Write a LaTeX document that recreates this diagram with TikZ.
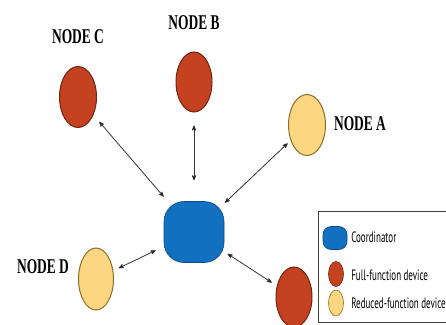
\documentclass[tikz,border=0pt]{standalone}
\usepackage{fontspec}
\usepackage{tikz}
\usetikzlibrary{arrows,shapes.geometric}

\newfontfamily\tagfont[FakeStretch=0.64]{Liberation Serif}
\newfontfamily\keyfont[FakeStretch=0.6]{PT Sans}

\definecolor{ffdfill}{RGB}{196,66,32}
\definecolor{ffdline}{RGB}{112,36,18}
\definecolor{rfdfill}{RGB}{252,214,128}
\definecolor{rfdline}{RGB}{140,110,40}
\definecolor{pancfill}{RGB}{18,112,192}
\definecolor{pancline}{RGB}{12,72,140}

\begin{document}
\begin{tikzpicture}
[x=1pt,y=-1pt,>=stealth',semithick]
\tikzstyle{ffd}=[ellipse,draw=ffdline,fill=ffdfill,line width=1pt,inner sep=0pt,minimum width=37pt,minimum height=61pt]
\tikzstyle{rfd}=[ffd,draw=rfdline,fill=rfdfill]
\tikzstyle{panc}=[rectangle,rounded corners=20pt,draw=pancline,fill=pancfill,line width=0.6pt,inner sep=0pt,minimum width=60pt,minimum height=61pt]
\tikzstyle{tag}=[font=\tagfont\bfseries\fontsize{21}{21}\selectfont,inner sep=0pt]
\tikzstyle{key}=[font=\keyfont\fontsize{15}{15}\selectfont,anchor=west,inner sep=0pt]
\tikzstyle{link}=[<->,draw=black!80,line width=0.8pt]

\clip (0,0) rectangle (446,324);
\useasboundingbox (0,0) rectangle (446,324);

\node[panc] (coord) at (194,232) {};
\node[rfd] (a) at (307,125) {};
\node[ffd,minimum width=36pt,minimum height=60pt] (b) at (194,82) {};
\node[ffd] (c) at (78,97) {};
\node[rfd,minimum width=35pt,minimum height=62pt] (d) at (96,279) {};
\node[ffd,minimum width=36pt,minimum height=60pt] (e) at (294,297) {};

\node[tag] (ta) at (360,124) {NODE A};
\node[tag] (tb) at (194,23) {NODE B};
\node[tag] (tc) at (78,37) {NODE C};
\node[tag] (td) at (43,267) {NODE D};

\path[link]
(coord) edge [shorten <=1pt, shorten >=4pt] (a)
(coord) edge [shorten <=21pt, shorten >=13pt] (b)
(coord) edge [shorten <=6pt, shorten >=9pt] (c)
(coord) edge [shorten <=9pt, shorten >=6pt] (d)
(coord) edge [shorten <=4pt, shorten >=6pt] (e)
;

% legend
\draw[draw=black!75,line width=0.8pt] (318,211) rectangle (470,322);
\node[panc,minimum width=24pt,minimum height=23pt,rounded corners=8pt] (kc) at (335,238) {};
\node[ffd,minimum width=15pt,minimum height=25pt,line width=0.6pt] (kf) at (336,274) {};
\node[rfd,minimum width=15pt,minimum height=26pt,line width=0.6pt] (kr) at (336,303) {};
\node[key] (tkc) at (351,237) {Coordinator};
\node[key] (tkf) at (351,275) {Full-function device};
\node[key] (tkr) at (351,303) {Reduced-function device};
\end{tikzpicture}
\end{document}
